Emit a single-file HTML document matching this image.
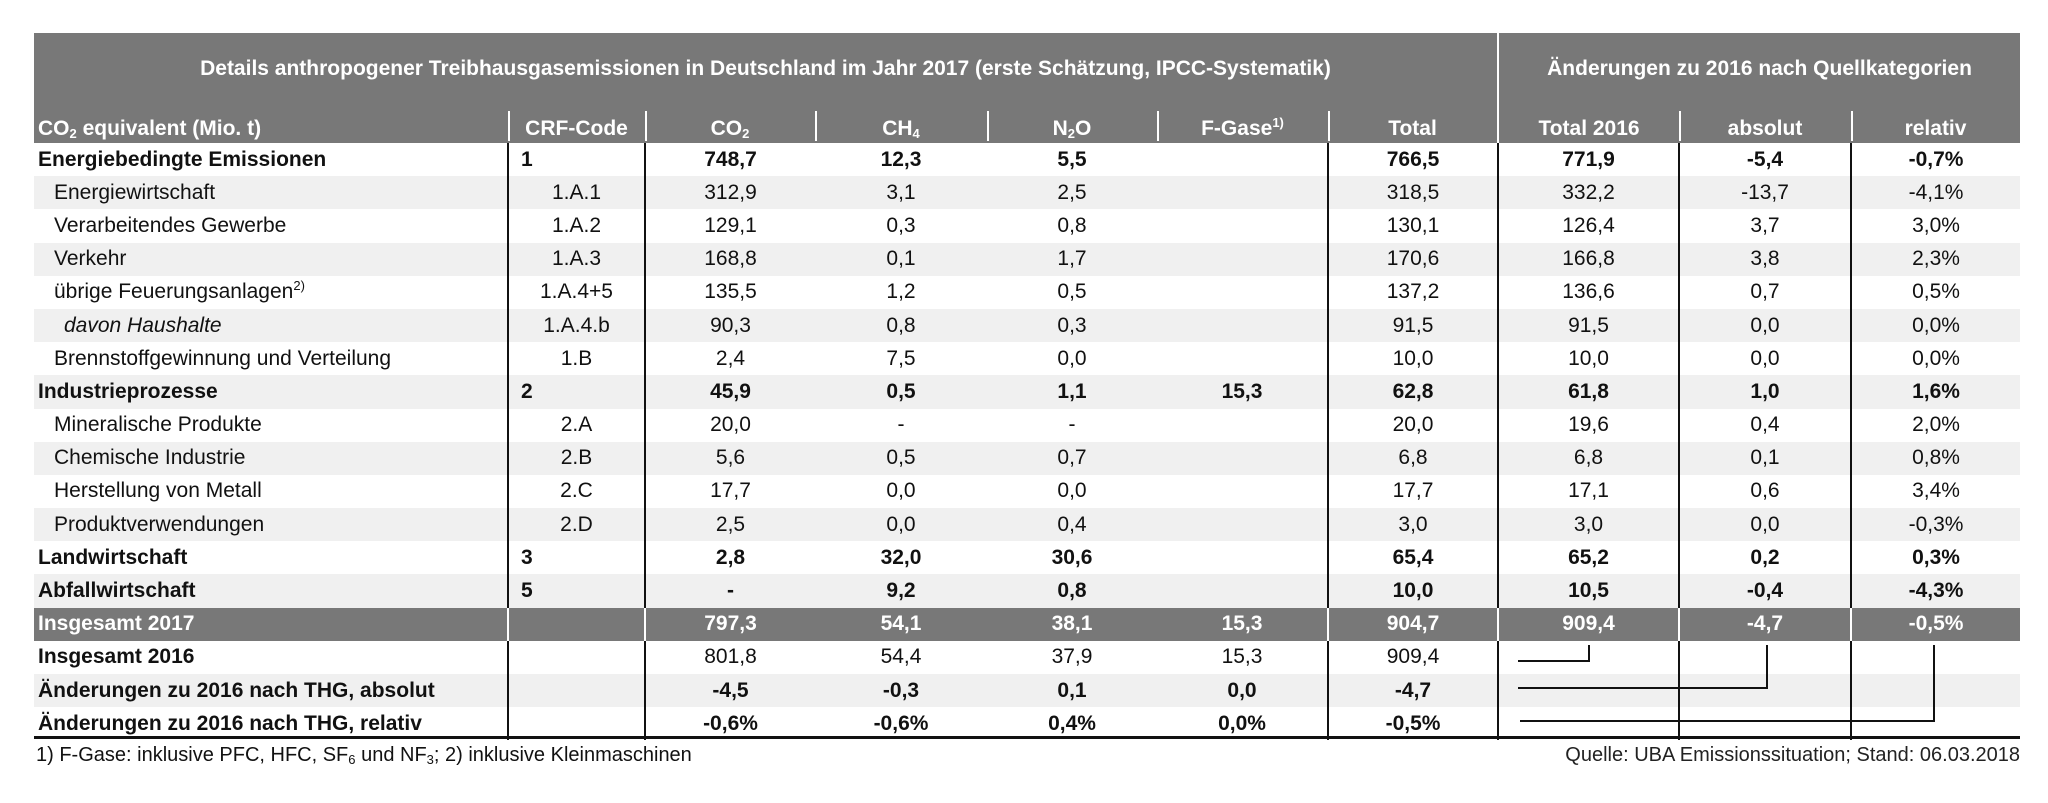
<!DOCTYPE html>
<html><head><meta charset="utf-8">
<style>
html,body{margin:0;padding:0;background:#fff;width:2048px;height:803px;overflow:hidden;}
body{position:relative;font-family:"Liberation Sans Narrow","Liberation Sans",sans-serif;color:#111;}
table{position:absolute;left:34px;top:33px;border-collapse:collapse;table-layout:fixed;width:1986px;}
td{padding:0;font-size:21px;text-align:center;white-space:nowrap;overflow:visible;}
tr.t td{height:72px;background:#787878;color:#fff;font-weight:bold;font-size:21px;}
tr.h td{height:36px;background:#787878;color:#fff;font-weight:bold;font-size:21px;vertical-align:bottom;padding-bottom:2px;}
tr.h td.s{background-image:linear-gradient(#fff,#fff);background-size:2px 30px;background-position:0 6px;background-repeat:no-repeat;}
tr.r td{height:33.2px;}
tr.g td{background:#f0f0f0;}
tr.d td{background:#787878;color:#fff;font-weight:bold;}
tr.d td.v{border-left:2px solid #fff;}
td.v{border-left:2px solid #111;}
td.l{text-align:left;padding-left:4px;}
td.i{text-align:left;padding-left:20px;}
td.cl{text-align:left;padding-left:12px;}
b{font-weight:bold;}
.bb td{font-weight:bold;}
sub{font-size:13px;vertical-align:-3px;line-height:0;}
sup{font-size:13px;vertical-align:8px;line-height:0;}
#bl{position:absolute;left:34px;top:736px;width:1986px;height:3px;background:#111;}
#f1{position:absolute;left:36px;top:744px;font-size:20px;}
#f2{position:absolute;right:28px;top:744px;font-family:"Liberation Sans",sans-serif;font-size:20px;color:#222;}
svg{position:absolute;left:0;top:0;}
</style></head><body>
<table>
<colgroup><col style="width:474px"><col style="width:137px"><col style="width:170px"><col style="width:172px"><col style="width:170px"><col style="width:171px"><col style="width:170px"><col style="width:181px"><col style="width:172px"><col style="width:169px"></colgroup>
<tr class="t"><td colspan="7">Details anthropogener Treibhausgasemissionen in Deutschland im Jahr 2017 (erste Schätzung, IPCC-Systematik)</td><td colspan="3" style="border-left:2px solid #fff">Änderungen zu 2016 nach Quellkategorien</td></tr>
<tr class="h"><td class="l">CO<sub>2</sub> equivalent (Mio. t)</td><td class="s">CRF-Code</td><td class="s">CO<sub>2</sub></td><td class="s">CH<sub>4</sub></td><td class="s">N<sub>2</sub>O</td><td class="s">F-Gase<sup>1)</sup></td><td class="s">Total</td><td style="border-left:2px solid #fff">Total 2016</td><td class="s">absolut</td><td class="s">relativ</td></tr>
<tr class="r bb"><td class="l">Energiebedingte Emissionen</td><td class="v cl">1</td><td class="v">748,7</td><td>12,3</td><td>5,5</td><td></td><td class="v">766,5</td><td class="v">771,9</td><td class="v">-5,4</td><td class="v">-0,7%</td></tr>
<tr class="r g"><td class="i">Energiewirtschaft</td><td class="v">1.A.1</td><td class="v">312,9</td><td>3,1</td><td>2,5</td><td></td><td class="v">318,5</td><td class="v">332,2</td><td class="v">-13,7</td><td class="v">-4,1%</td></tr>
<tr class="r"><td class="i">Verarbeitendes Gewerbe</td><td class="v">1.A.2</td><td class="v">129,1</td><td>0,3</td><td>0,8</td><td></td><td class="v">130,1</td><td class="v">126,4</td><td class="v">3,7</td><td class="v">3,0%</td></tr>
<tr class="r g"><td class="i">Verkehr</td><td class="v">1.A.3</td><td class="v">168,8</td><td>0,1</td><td>1,7</td><td></td><td class="v">170,6</td><td class="v">166,8</td><td class="v">3,8</td><td class="v">2,3%</td></tr>
<tr class="r"><td class="i">übrige Feuerungsanlagen<sup>2)</sup></td><td class="v">1.A.4+5</td><td class="v">135,5</td><td>1,2</td><td>0,5</td><td></td><td class="v">137,2</td><td class="v">136,6</td><td class="v">0,7</td><td class="v">0,5%</td></tr>
<tr class="r g"><td class="i" style="padding-left:30px;font-style:italic">davon Haushalte</td><td class="v">1.A.4.b</td><td class="v">90,3</td><td>0,8</td><td>0,3</td><td></td><td class="v">91,5</td><td class="v">91,5</td><td class="v">0,0</td><td class="v">0,0%</td></tr>
<tr class="r"><td class="i">Brennstoffgewinnung und Verteilung</td><td class="v">1.B</td><td class="v">2,4</td><td>7,5</td><td>0,0</td><td></td><td class="v">10,0</td><td class="v">10,0</td><td class="v">0,0</td><td class="v">0,0%</td></tr>
<tr class="r g bb"><td class="l">Industrieprozesse</td><td class="v cl">2</td><td class="v">45,9</td><td>0,5</td><td>1,1</td><td>15,3</td><td class="v">62,8</td><td class="v">61,8</td><td class="v">1,0</td><td class="v">1,6%</td></tr>
<tr class="r"><td class="i">Mineralische Produkte</td><td class="v">2.A</td><td class="v">20,0</td><td>-</td><td>-</td><td></td><td class="v">20,0</td><td class="v">19,6</td><td class="v">0,4</td><td class="v">2,0%</td></tr>
<tr class="r g"><td class="i">Chemische Industrie</td><td class="v">2.B</td><td class="v">5,6</td><td>0,5</td><td>0,7</td><td></td><td class="v">6,8</td><td class="v">6,8</td><td class="v">0,1</td><td class="v">0,8%</td></tr>
<tr class="r"><td class="i">Herstellung von Metall</td><td class="v">2.C</td><td class="v">17,7</td><td>0,0</td><td>0,0</td><td></td><td class="v">17,7</td><td class="v">17,1</td><td class="v">0,6</td><td class="v">3,4%</td></tr>
<tr class="r g"><td class="i">Produktverwendungen</td><td class="v">2.D</td><td class="v">2,5</td><td>0,0</td><td>0,4</td><td></td><td class="v">3,0</td><td class="v">3,0</td><td class="v">0,0</td><td class="v">-0,3%</td></tr>
<tr class="r bb"><td class="l">Landwirtschaft</td><td class="v cl">3</td><td class="v">2,8</td><td>32,0</td><td>30,6</td><td></td><td class="v">65,4</td><td class="v">65,2</td><td class="v">0,2</td><td class="v">0,3%</td></tr>
<tr class="r g bb"><td class="l">Abfallwirtschaft</td><td class="v cl">5</td><td class="v">-</td><td>9,2</td><td>0,8</td><td></td><td class="v">10,0</td><td class="v">10,5</td><td class="v">-0,4</td><td class="v">-4,3%</td></tr>
<tr class="r d"><td class="l">Insgesamt 2017</td><td class="v"></td><td class="v">797,3</td><td>54,1</td><td>38,1</td><td>15,3</td><td class="v">904,7</td><td class="v">909,4</td><td class="v">-4,7</td><td class="v">-0,5%</td></tr>
<tr class="r"><td class="l"><b>Insgesamt 2016</b></td><td class="v"></td><td class="v">801,8</td><td>54,4</td><td>37,9</td><td>15,3</td><td class="v">909,4</td><td class="v"></td><td class="v"></td><td class="v"></td></tr>
<tr class="r g bb"><td class="l">Änderungen zu 2016 nach THG, absolut</td><td class="v"></td><td class="v">-4,5</td><td>-0,3</td><td>0,1</td><td>0,0</td><td class="v">-4,7</td><td class="v"></td><td class="v"></td><td class="v"></td></tr>
<tr class="r bb"><td class="l">Änderungen zu 2016 nach THG, relativ</td><td class="v"></td><td class="v">-0,6%</td><td>-0,6%</td><td>0,4%</td><td>0,0%</td><td class="v">-0,5%</td><td class="v"></td><td class="v"></td><td class="v"></td></tr>
</table>
<svg width="2048" height="803"><g stroke="#111" stroke-width="2" fill="none">
<polyline points="1518,661 1589,661 1589,645"/>
<polyline points="1518,688 1767,688 1767,645"/>
<polyline points="1520,721 1934,721 1934,645"/>
</g></svg>
<div id="bl"></div>
<div id="f1">1) F-Gase: inklusive PFC, HFC, SF<sub>6</sub> und NF<sub>3</sub>; 2) inklusive Kleinmaschinen</div>
<div id="f2">Quelle: UBA Emissionssituation; Stand: 06.03.2018</div>
</body></html>
